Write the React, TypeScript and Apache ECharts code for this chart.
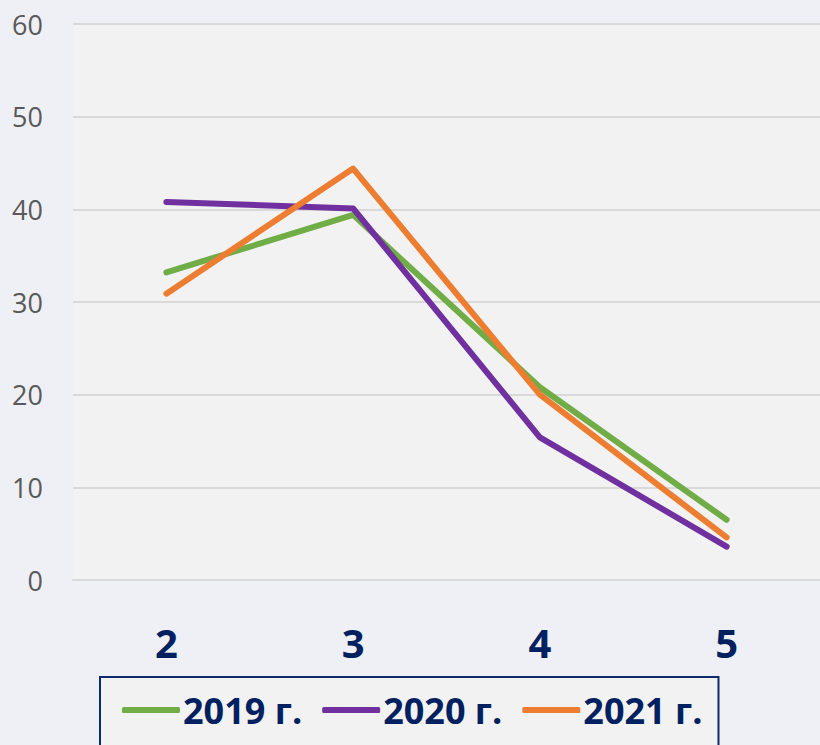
import React, { useEffect, useRef } from "react";
import * as echarts from "echarts";

const categories = ["2", "3", "4", "5"];
const seriesNames = ["2019 г.", "2020 г.", "2021 г."];
const values2019 = [33.2, 39.4, 20.8, 6.5];
const values2020 = [40.8, 40.1, 15.4, 3.6];
const values2021 = [30.9, 44.4, 20.0, 4.6];
const colors = ["#70ad47", "#7030a0", "#ed7d31"];

export default function App() {
  const ref = useRef<HTMLDivElement>(null);
  useEffect(() => {
    if (!ref.current) return;
    const chart = echarts.init(ref.current, null, { renderer: "svg" });
    const data = [values2019, values2020, values2021];
    chart.setOption({
      animation: false,
      backgroundColor: "#eef0f5",
      grid: {
        left: 73,
        right: 0,
        top: 24,
        bottom: 165,
        show: true,
        backgroundColor: "#f2f2f2",
        borderWidth: 0,
      },
      legend: {
        left: 100,
        top: 677,
        backgroundColor: "#f2f2f2",
        borderColor: "#0d2a6b",
        borderWidth: 2,
        borderRadius: 0,
        padding: [15, 16, 30, 22],
        itemWidth: 58,
        itemHeight: 6,
        itemGap: 20,
        icon: "roundRect",
        textStyle: {
          fontFamily: "Open Sans",
          fontWeight: "bold",
          fontSize: 36,
          color: "#002060",
          padding: [0, 0, 0, -2],
        },
        data: seriesNames,
      },
      xAxis: {
        type: "category",
        data: categories,
        boundaryGap: true,
        axisLine: { show: true, lineStyle: { color: "#d9d9d9", width: 2 } },
        axisTick: { show: false },
        axisLabel: {
          margin: 42,
          fontFamily: "Open Sans",
          fontWeight: "bold",
          fontSize: 40,
          color: "#002060",
        },
      },
      yAxis: {
        type: "value",
        min: 0,
        max: 60,
        interval: 10,
        axisLine: { show: false },
        axisTick: { show: false },
        splitLine: { lineStyle: { color: "#d9d9d9", width: 2 } },
        axisLabel: {
          margin: 30,
          fontFamily: "Open Sans",
          fontSize: 27,
          color: "#595959",
        },
      },
      series: seriesNames.map((name, i) => ({
        name,
        type: "line",
        data: data[i],
        symbol: "none",
        itemStyle: { color: colors[i] },
        lineStyle: { color: colors[i], width: 6, cap: "round", join: "round" },
      })),
    });
    return () => chart.dispose();
  }, []);
  return (
    <div
      ref={ref}
      style={{ position: "fixed", left: 0, top: 0, width: 820, height: 745 }}
    />
  );
}
